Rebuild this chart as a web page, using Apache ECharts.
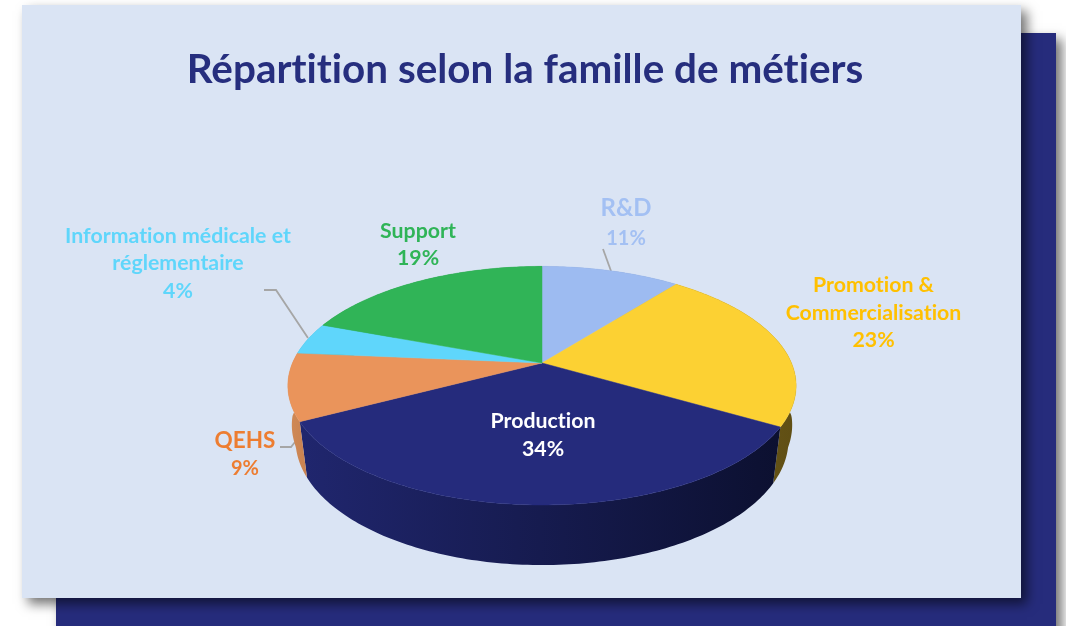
<!DOCTYPE html>
<html lang="fr">
<head>
<meta charset="utf-8">
<title>Répartition selon la famille de métiers</title>
<script src="https://cdn.jsdelivr.net/npm/echarts@6/dist/echarts.min.js"></script>
<style>
html,body{margin:0;padding:0;background:#fff}
#chart{width:1066px;height:626px}
</style>
</head>
<body>
<div id="chart"></div>
<script>
const chartTitle = 'Répartition selon la famille de métiers';
const categories = ['R&D', 'Promotion &\nCommercialisation', 'Production', 'QEHS', 'Information médicale et\nréglementaire', 'Support'];
const shares = [10.6, 22.8, 33.9, 9.1, 4.3, 19.3];

// Styling (separate from the data)
const faceColors = ['#9dbbf1', '#fcd133', '#252b7c', '#ea945b', '#5fd6fb', '#30b457'];
const wallColors = [
  ['#7f96c0', '#7f96c0'],
  ['#75601a', '#5f4e14'],
  ['#20266e', '#0c1030'],
  ['#d08a57', '#c98250'],
  ['#4aa8c6', '#4aa8c6'],
  ['#26904a', '#26904a']
];
const labelColors = ['#a3c0f3', '#ffc000', '#ffffff', '#ed7d31', '#5fd6fb', '#2fb457'];
const labelLayout = [
  {x: 626, nameY: 208, valueY: 238.5, nameSize: 24, valueSize: 20, lh: 27.5},
  {x: 873.5, nameY: 299, valueY: 340, nameSize: 21.3, valueSize: 21.3, lh: 27.5},
  {x: 543, nameY: 421, valueY: 449, nameSize: 21.3, valueSize: 21.3, lh: 27.5},
  {x: 245, nameY: 441, valueY: 469, nameSize: 22.5, valueSize: 20, lh: 27.5},
  {x: 178, nameY: 249.5, valueY: 291, nameSize: 21.3, valueSize: 21.3, lh: 27.5},
  {x: 418, nameY: 231, valueY: 258.5, nameSize: 21.3, valueSize: 21.3, lh: 27.5}
];
const leaders = [
  [[603, 249], [611, 271]],
  [[264, 290], [276, 290], [308, 338]],
  [[280, 447], [291, 447], [295, 442]]
];
const FONT = 'Lato, "Open Sans", sans-serif';

// The reference's typeface has no "ti" ligature: a tiny letter spacing switches it off
const nativeFillText = CanvasRenderingContext2D.prototype.fillText;
CanvasRenderingContext2D.prototype.fillText = function (...args) {
  this.letterSpacing = '0.01px';
  return nativeFillText.apply(this, args);
};

// Perspective projection of the disc
const CX = 542, CY = 363, A = 249.5, B = 115, K = 0.19;
const WALL_SX = 0.97, WALL_SY = 1.05, WALL_DZ = 53;
function topPoint(deg) {
  const t = deg * Math.PI / 180, x = Math.sin(t), y = -Math.cos(t), w = 1 - K * y;
  return [CX + A * x / w, CY + B * y / w];
}
function bottomPoint(deg) {
  const p = topPoint(deg), dy = p[1] - CY;
  const sx = WALL_SX + (1 - WALL_SX) * Math.min(1, Math.max(0, 1 - dy / 30));
  return [CX + (p[0] - CX) * sx, CY + WALL_DZ + dy * WALL_SY];
}
function arc(fn, a0, a1) {
  const pts = [], n = Math.max(2, Math.ceil(Math.abs(a1 - a0)));
  for (let i = 0; i <= n; i++) pts.push(fn(a0 + (a1 - a0) * i / n));
  return pts;
}
const total = shares.reduce((s, v) => s + v, 0);
function startAngle(i) {
  let c = 0;
  for (let k = 0; k < i; k++) c += shares[k];
  return c / total * 360;
}

function renderSlice(params, api) {
  const i = params.dataIndex, v = api.value(0);
  const a0 = startAngle(i), a1 = a0 + v / total * 360;
  const wall = arc(topPoint, a0, a1).concat(arc(bottomPoint, a1, a0));
  const face = [[CX, CY]].concat(arc(topPoint, a0, a1));
  const L = labelLayout[i];
  const textStyle = (text, size) => ({
    text, fill: labelColors[i],
    font: 'bold ' + size + 'px ' + FONT,
    lineHeight: L.lh, align: 'center', verticalAlign: 'middle'
  });
  return {
    type: 'group',
    children: [
      {
        type: 'polygon', z2: 1,
        shape: {points: wall},
        style: {
          fill: {type: 'linear', x: 0, y: 0, x2: 1, y2: 0, colorStops: [
            {offset: 0, color: wallColors[i][0]}, {offset: 1, color: wallColors[i][1]}]},
          stroke: null
        }
      },
      {
        type: 'polygon', z2: 10,
        shape: {points: face},
        style: {fill: faceColors[i], stroke: faceColors[i], lineWidth: 0.5}
      },
      {type: 'text', z2: 30, x: L.x, y: L.nameY, style: textStyle(categories[i], L.nameSize)},
      {type: 'text', z2: 30, x: L.x, y: L.valueY, style: textStyle(Math.round(v) + '%', L.valueSize)}
    ]
  };
}

const shadow = {shadowColor: 'rgba(0,0,0,0.55)', shadowBlur: 11, shadowOffsetX: 6, shadowOffsetY: 6};
const chart = echarts.init(document.getElementById('chart'), null, {renderer: 'canvas'});
chart.setOption({
  animation: false,
  backgroundColor: '#ffffff',
  tooltip: {show: false},
  graphic: {
    elements: [
      {type: 'rect', z: -20, shape: {x: 56, y: 33, width: 1000, height: 620},
        style: Object.assign({fill: '#262c7c'}, shadow), silent: true},
      {type: 'rect', z: -10, shape: {x: 22, y: 5, width: 999, height: 593},
        style: Object.assign({fill: '#dae4f4'}, shadow), silent: true},
      {type: 'text', z: -5, x: 525, y: 70, silent: true,
        style: {text: chartTitle, fill: '#262e7e', font: 'bold 40.4px ' + FONT, align: 'center', verticalAlign: 'middle'}}
    ].concat(leaders.map(pts => ({
      type: 'polyline', z: -5, silent: true, shape: {points: pts},
      style: {stroke: '#a6a6a6', lineWidth: 1.8, fill: null}
    })))
  },
  series: [{
    type: 'custom',
    coordinateSystem: 'none',
    silent: true,
    renderItem: renderSlice,
    data: shares.map(v => [v])
  }]
});
</script>
</body>
</html>
